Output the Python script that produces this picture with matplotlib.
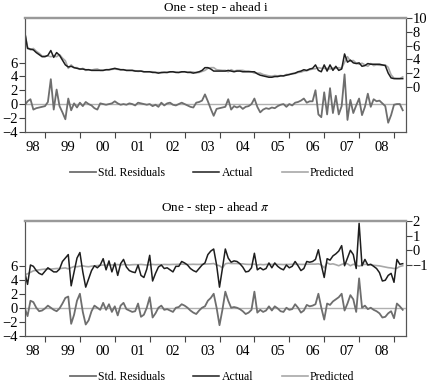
import numpy as np
from matplotlib import pyplot as plt

plt.rcParams['font.family'] = ['Liberation Serif', 'DejaVu Serif']
plt.rcParams['mathtext.fontset'] = 'stix'

# monthly observations, 1998M06 .. 2009M04
start_year, start_month, n_obs = 1998, 6, 131
year_labels = ['98', '99', '00', '01', '02', '03', '04', '05', '06', '07', '08']

# one-step-ahead i (right axis: actual / predicted, left axis: std. residuals)
i_actual = [8.1, 5.6, 5.5, 5.4, 5.0, 4.7, 4.4,
            4.4, 4.6, 5.3, 4.3, 5.0, 4.6, 3.9, 3.2, 2.9, 3.0, 2.8, 2.7,
            2.6, 2.6, 2.5, 2.5, 2.4, 2.4, 2.4, 2.4, 2.4, 2.5, 2.5, 2.6,
            2.7, 2.6, 2.5, 2.5, 2.4, 2.4, 2.4, 2.3, 2.3, 2.3, 2.2, 2.2,
            2.2, 2.1, 2.1, 2.0, 2.1, 2.1, 2.1, 2.2, 2.2, 2.1, 2.1, 2.2,
            2.2, 2.1, 2.1, 2.0, 2.1, 2.2, 2.4, 2.8, 2.8, 2.6, 2.3, 2.3,
            2.3, 2.3, 2.3, 2.4, 2.3, 2.2, 2.3, 2.3, 2.2, 2.2, 2.2, 2.2,
            2.2, 1.9, 1.7, 1.6, 1.5, 1.4, 1.4, 1.5, 1.5, 1.6, 1.6, 1.7,
            1.8, 1.9, 2.0, 2.2, 2.3, 2.5, 2.4, 2.6, 2.7, 3.2, 2.4, 2.2,
            3.2, 2.3, 3.2, 2.4, 3.0, 2.4, 2.6, 4.8, 3.6, 3.9, 3.5, 3.4,
            3.5, 3.0, 3.1, 3.4, 3.3, 3.3, 3.3, 3.3, 3.2, 3.1, 2.0, 1.3,
            1.2, 1.2, 1.2, 1.2]
i_predicted = [8.0, 5.8, 5.4, 5.6, 5.2, 4.9, 4.5,
               4.5, 4.5, 4.4, 4.5, 4.4, 4.7, 4.2, 3.8, 2.7, 3.2, 2.8, 2.8,
               2.55, 2.7, 2.4, 2.5, 2.45, 2.55, 2.6, 2.4, 2.4, 2.5, 2.5, 2.55,
               2.6, 2.55, 2.5, 2.5, 2.4, 2.4, 2.4, 2.35, 2.25, 2.3, 2.2, 2.2,
               2.2, 2.2, 2.1, 2.1, 2.05, 2.15, 2.1, 2.15, 2.2, 2.15, 2.1, 2.15,
               2.2, 2.15, 2.2, 2.15, 2.05, 2.1, 2.25, 2.4, 2.7, 2.8, 2.8, 2.5,
               2.45, 2.4, 2.4, 2.2, 2.5, 2.3, 2.4, 2.4, 2.4, 2.3, 2.3, 2.2,
               2.0, 2.0, 2.0, 1.8, 1.7, 1.6, 1.55, 1.65, 1.6, 1.65, 1.6, 1.8,
               1.8, 1.95, 1.95, 2.1, 2.15, 2.3, 2.35, 2.5, 2.6, 2.65, 2.8, 2.7,
               2.7, 2.7, 2.6, 2.75, 2.7, 2.8, 2.7, 3.6, 4.4, 3.75, 3.85, 3.45,
               3.3, 3.45, 3.2, 3.0, 3.4, 3.1, 3.2, 3.15, 3.15, 3.2, 2.85, 1.75,
               1.25, 1.2, 1.2, 1.45]
i_resid = [-0.2, 0.4, 0.7, -0.8, -0.6, -0.5, -0.4,
           -0.3, 0.3, 3.6, -0.8, 2.1, -0.3, -1.2, -2.2, 0.8, -0.9, 0.1, -0.5,
           0.2, -0.3, 0.3, 0.0, -0.2, -0.6, -0.8, 0.1, 0.0, -0.1, 0.0, 0.1,
           0.4, 0.1, -0.1, 0.0, -0.1, 0.1, 0.0, -0.2, 0.2, 0.1, 0.0, -0.1,
           0.0, -0.3, -0.1, -0.4, 0.2, -0.2, 0.1, 0.2, -0.1, -0.2, 0.0, 0.2,
           0.0, -0.2, -0.4, -0.5, 0.2, 0.3, 0.5, 1.4, 0.4, -0.7, -1.7, -0.7,
           -0.6, -0.5, -0.4, 0.7, -0.8, -0.3, -0.5, -0.3, -0.7, -0.4, -0.3, 0.0,
           0.8, -0.4, -1.2, -0.8, -0.6, -0.7, -0.5, -0.6, -0.3, -0.1, 0.0, -0.4,
           0.0, -0.2, 0.2, 0.3, 0.5, 0.8, 0.2, 0.4, 0.4, 2.0, -1.5, -1.9,
           1.7, -1.5, 2.3, -1.3, 1.2, -1.5, -0.3, 4.3, -2.3, 0.6, -1.3, -0.2,
           0.8, -1.6, -0.4, 1.5, -0.4, 0.7, 0.4, 0.5, 0.1, -0.3, -2.7, -1.6,
           -0.1, 0.0, 0.0, -0.9]

# one-step-ahead pi
pi_actual = [-1.47, -2.32, -1.0, -1.09, -1.38, -1.57, -1.66,
             -1.43, -1.19, -1.33, -1.47, -1.47, -1.28, -0.76, -0.53, -0.29, -2.42, -1.47, -0.53,
             -0.15, -1.47, -2.51, -1.95, -1.38, -1.05, -1.19, -1.0, -0.57, -1.33, -0.72, -1.47,
             -0.86, -1.71, -0.91, -0.62, -1.14, -1.38, -1.47, -1.52, -1.0, -1.71, -1.85, -1.28,
             -0.34, -2.09, -1.57, -1.14, -1.0, -1.24, -1.19, -1.33, -1.47, -1.09, -1.09, -0.76,
             -0.86, -1.0, -1.24, -1.38, -1.47, -1.24, -1.0, -0.86, -0.29, -0.05, 0.09, -1.0,
             -2.51, -1.24, 0.09, -0.53, -0.81, -0.72, -0.76, -0.91, -1.14, -1.47, -1.43, -1.19,
             -0.2, -1.33, -1.19, -1.33, -1.24, -0.86, -1.19, -0.86, -1.09, -1.24, -1.33, -1.0,
             -1.19, -1.09, -0.76, -1.05, -1.38, -1.24, -0.76, -0.81, -0.76, -0.62, 0.04, -1.0,
             -1.85, -0.57, -0.67, -0.38, -0.24, -0.05, 0.32, -1.05, -0.53, 0.0, -0.29, -1.24,
             1.84, -1.05, -0.62, -1.0, -0.95, -1.09, -1.24, -1.52, -2.09, -2.04, -1.71, -1.57,
             -2.18, -0.62, -0.95, -0.91]
pi_predicted = [-1.66, -1.60, -1.50, -1.40, -1.36, -1.33, -1.30,
                -1.28, -1.28, -1.28, -1.26, -1.24, -1.24, -1.22, -1.20, -1.26, -1.18, -1.10, -1.12,
                -1.08, -1.06, -1.10, -1.12, -1.08, -1.06, -1.04, -1.02, -1.0, -1.02, -0.98, -1.0,
                -0.98, -0.97, -1.0, -0.96, -0.98, -1.0, -0.98, -0.97, -0.98, -0.96, -0.98, -1.0,
                -0.98, -0.96, -0.98, -0.97, -0.98, -0.96, -0.97, -0.97, -0.96, -0.96, -0.95, -0.94,
                -0.95, -0.96, -0.96, -0.95, -0.96, -0.96, -0.95, -0.94, -0.93, -0.92, -0.90, -1.0,
                -1.05, -1.20, -0.92, -0.88, -0.90, -0.90, -0.90, -0.92, -0.92, -0.95, -0.96, -0.96,
                -0.94, -1.0, -0.96, -0.98, -0.96, -0.95, -0.96, -0.95, -0.96, -0.96, -0.97, -0.96,
                -0.96, -0.95, -0.95, -0.95, -0.96, -0.96, -0.95, -0.94, -0.94, -0.94, -0.92, -0.98,
                -1.20, -0.85, -0.95, -0.92, -0.98, -1.05, -0.96, -0.90, -0.92, -1.05, -0.95, -1.0,
                -1.08, -1.0, -0.95, -0.98, -1.0, -1.02, -1.04, -1.06, -1.10, -1.14, -1.18, -1.20,
                -1.24, -1.22, -1.10, -1.05]
pi_resid = [0.0, -1.2, 1.0, 0.8, 0.0, -0.5, -0.4,
            -0.1, 0.3, 0.0, -0.3, -0.5, -0.1, 0.6, 1.4, 1.6, -2.3, -1.0, 1.0,
            2.0, -0.6, -2.4, -1.8, -0.5, 0.3, 0.0, -0.3, 0.7, -0.3, 0.5, -0.6,
            0.2, -1.1, 0.3, 0.7, -0.2, -0.4, -0.6, -0.5, 0.6, -1.3, -1.0, 0.0,
            1.5, -1.4, -0.8, 0.0, 0.3, -0.3, -0.2, -0.4, -0.6, 0.0, 0.1, 0.5,
            0.3, 0.0, -0.4, -0.7, -0.9, -0.4, 0.0, 0.2, 1.0, 1.4, 2.0, 0.0,
            -2.5, -0.3, 2.3, 1.0, 0.0, 0.1, 0.0, -0.2, -0.5, -0.9, -0.7, -0.3,
            2.3, -0.7, -0.3, -0.6, -0.4, 0.2, -0.4, 0.2, -0.1, -0.5, -0.6, 0.0,
            -0.3, -0.2, 0.5, 0.0, -0.7, -0.4, 0.4, 0.2, 0.3, 0.5, 2.0, 0.0,
            -1.7, 0.6, 0.4, 0.9, 1.2, 1.5, 2.0, -0.4, 0.6, 1.8, 1.2, -0.6,
            4.2, 0.0, 0.3, -0.2, 0.0, -0.3, -0.5, -0.8, -1.4, -1.3, -0.8, -0.5,
            -1.5, 0.6, 0.2, -0.3]

t = start_year + (start_month - 1) / 12 + np.arange(n_obs) / 12

c_res, c_act, c_pred = '#6e6e6e', '#1e1e1e', '#a8a8a8'

fig = plt.figure(figsize=(4.31, 3.89), dpi=100)


def panel(rect, title, resid, actual, pred, right_lim, right_ticks, legend_y):
    ax = fig.add_axes(rect)
    ax2 = ax.twinx()
    ax.axhline(0, color='#b0b0b0', lw=1.0, zorder=1)
    l_res, = ax.plot(t, resid, color=c_res, lw=1.3, zorder=2)
    l_pred, = ax2.plot(t, pred, color=c_pred, lw=1.2, zorder=2)
    l_act, = ax2.plot(t, actual, color=c_act, lw=1.1, zorder=3)
    ax.set_xlim(1998.427, 2009.335)
    ax.set_ylim(-4, 12.4)
    ax.set_yticks([-4, -2, 0, 2, 4, 6])
    ax2.set_ylim(*right_lim)
    ax2.set_yticks(right_ticks)
    # year ticks at year boundaries, labels inside the year
    ax.set_xticks(range(1999, 2010))
    ax.set_xticklabels([])
    ax.set_xticks([1998.66 + k for k in range(len(year_labels))], minor=True)
    ax.set_xticklabels(year_labels, minor=True)
    ax.tick_params(axis='x', which='minor', length=0, pad=7, labelsize=10.5)
    ax.tick_params(axis='x', which='major', length=4, width=0.8, color='#444')
    ax.tick_params(axis='y', length=4, width=0.8, pad=1, labelsize=10.5, color='#444')
    ax2.tick_params(axis='y', length=4, width=0.8, pad=1, labelsize=10.5, color='#444')
    for a in (ax, ax2):
        for s in a.spines.values():
            s.set_color('#555')
            s.set_linewidth(0.8)
        a.spines['top'].set_color('#999')
        a.spines['top'].set_linewidth(1.6)
    ax.set_zorder(ax2.get_zorder() + 1)
    ax.patch.set_visible(False)
    fig.text(0.5, rect[1] + rect[3] + 0.012, title, ha='center', va='bottom', fontsize=9.5)
    fig.legend([l_res, l_act, l_pred], ['Std. Residuals', 'Actual', 'Predicted'],
               loc='center', bbox_to_anchor=(0.492, legend_y), ncol=3, frameon=False,
               fontsize=8.5, handlelength=2.2, columnspacing=2.4, handletextpad=0.2)


panel([0.058, 0.6614, 0.8833, 0.2915], 'One - step - ahead i',
      i_resid, i_actual, i_predicted, (-6.55, 10), [0, 2, 4, 6, 8, 10], 1 - 173 / 389)
panel([0.058, 0.137, 0.8833, 0.2949], r'One - step - ahead $\pi$',
      pi_resid, pi_actual, pi_predicted, (-5.82, 2), [-1, 0, 1, 2], 1 - 377 / 389)

plt.savefig('out.png', dpi=100)
